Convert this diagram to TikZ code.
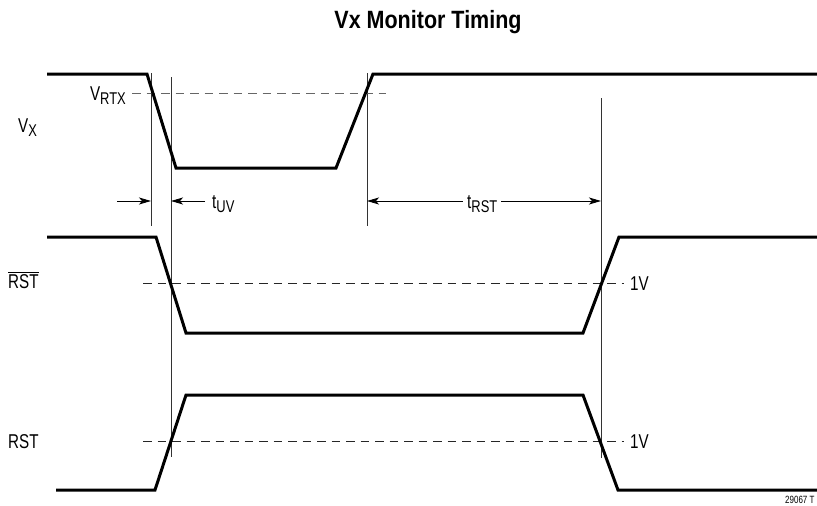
\documentclass[tikz,border=0pt]{standalone}
\usepackage{fontspec}
\setmainfont{Liberation Sans}[FakeStretch=0.76]
\newfontfamily\titlefont{Liberation Sans}[FakeStretch=0.86]
\usetikzlibrary{arrows.meta}
\newcommand{\lsub}[1]{\raisebox{-4pt}{\fontsize{17}{17}\selectfont #1}}
\tikzset{
  trace/.style={line width=3pt, line join=miter},
  guide/.style={line width=0.9pt, black!80},
  thr/.style={line width=1pt, dash pattern=on 8.5pt off 6pt},
  dim/.style={line width=0.9pt, arrows={-Stealth[length=12pt,width=7pt,inset=3pt]}},
  lbl/.style={inner sep=0pt, font=\fontsize{20}{20}\selectfont, anchor=base west},
}
\begin{document}
\begin{tikzpicture}[x=1pt,y=-1pt]
\useasboundingbox (0,0) rectangle (817,506);
% title
\node[inner sep=0pt, anchor=base, font=\titlefont\bfseries\fontsize{25}{25}\selectfont] (title) at (428,28) {Vx Monitor Timing};
% guides
\coordinate (g1t) at (151,73);  \coordinate (g1b) at (151,226);
\coordinate (g2t) at (171,77);  \coordinate (g2b) at (171,457);
\coordinate (g3t) at (367,73);  \coordinate (g3b) at (367,226);
\coordinate (g4t) at (601,98);  \coordinate (g4b) at (601,458);
\draw[guide] (g1t) -- (g1b);
\draw[guide] (g2t) -- (g2b);
\draw[guide] (g3t) -- (g3b);
\draw[guide] (g4t) -- (g4b);
% thresholds
\draw[thr, black!60] (132,93) -- (386,93);
\draw[thr, black!85] (143,283) -- (624,283);
\draw[thr, black!85] (143,441) -- (624,441);
% traces
\draw[trace] (47,74) -- (147,74) -- (176,168) -- (336,168) -- (373,74) -- (817,74);
\draw[trace] (47,237) -- (156,237) -- (186,333) -- (583,333) -- (619,237) -- (817,237);
\draw[trace] (56,490) -- (155,490) -- (186,395) -- (583,395) -- (618,490) -- (817,490);
% dimension arrows
\coordinate (a1s) at (117,201); \coordinate (a1e) at (151,201);
\coordinate (a2s) at (205,201); \coordinate (a2e) at (171,201);
\coordinate (a3s) at (367,201); \coordinate (a3e) at (601,201);
\draw[dim] (a1s) -- (a1e);
\draw[dim] (a2s) -- (a2e);
\draw[dim, arrows={Stealth[length=12pt,width=7pt,inset=3pt]-Stealth[length=12pt,width=7pt,inset=3pt]}] (a3s) -- (a3e);
% labels
\node[lbl, anchor=base east] (vrtx) at (126,100) {V\lsub{RTX}};
\node[lbl] (vx) at (18,132) {V\lsub{X}};
\node[lbl] (tuv) at (212,208) {t\lsub{UV}};
\node[lbl, fill=white, inner xsep=4pt] (trst) at (463,208) {t\lsub{RST}};
\node[lbl] (rstb) at (8,288) {$\overline{\mbox{RST}}$};
\node[lbl] (rst) at (8,448) {RST};
\node[lbl] (v1a) at (630,290) {1V};
\node[lbl] (v1b) at (630,448) {1V};
\node[inner sep=0pt, anchor=base west, font=\fontsize{10.5}{10.5}\selectfont] (fig) at (785,503) {29067 T};
\end{tikzpicture}
\end{document}
